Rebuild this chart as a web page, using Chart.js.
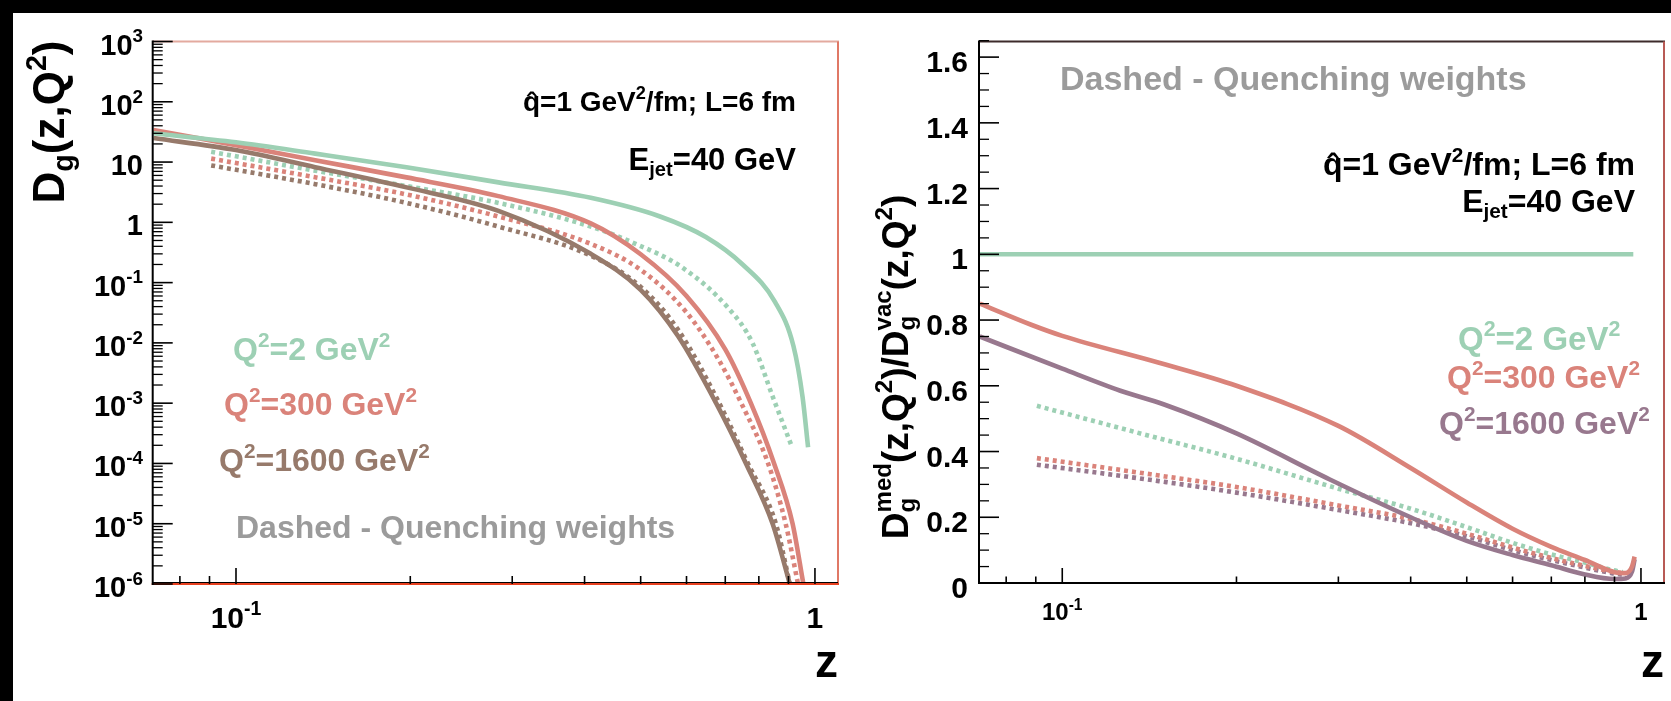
<!DOCTYPE html>
<html>
<head>
<meta charset="utf-8">
<script src="https://cdn.jsdelivr.net/npm/chart.js@4.4.1/dist/chart.umd.min.js"></script>
<style>
  html, body { margin: 0; padding: 0; background: #fff; }
  body { width: 1671px; height: 701px; position: relative; overflow: hidden; }
  canvas { position: absolute; left: 0; top: 0; }
  .bar { position: absolute; background: #000; z-index: 5; }
</style>
</head>
<body>
<div class="bar" style="left:0;top:0;width:1671px;height:13px"></div>
<div class="bar" style="left:0;top:0;width:13px;height:701px"></div>
<canvas id="fragLeft" width="1671" height="701"></canvas>
<canvas id="fragRight" width="1671" height="701"></canvas>
<script>
// ---- left panel: D_g(z,Q^2); solid = medium-modified evolution, dashed = quenching weights
const zMed2    = [0.072, 0.1, 0.137, 0.197, 0.284, 0.41, 0.54, 0.648, 0.75, 0.853, 0.918, 0.952, 0.973];
const dMed2    = [30, 21.3, 13.8, 8.2, 4.6, 2.55, 1.25, 0.57, 0.20, 0.048, 0.0089, 1.26e-3, 1.86e-4];
const zMed300  = [0.072, 0.1, 0.137, 0.197, 0.284, 0.41, 0.5, 0.6, 0.7, 0.775, 0.85, 0.915, 0.955];
const dMed300  = [34, 19.1, 10.7, 5.57, 2.72, 0.96, 0.295, 0.06, 7.8e-3, 1e-3, 1e-4, 1e-5, 1e-6];
const zMed1600 = [0.072, 0.1, 0.137, 0.197, 0.284, 0.41, 0.5, 0.58, 0.675, 0.76, 0.845, 0.905];
const dMed1600 = [25, 15.8, 8.2, 3.8, 1.55, 0.3, 0.076, 0.013, 1e-3, 1e-4, 1e-5, 1e-6];
const zQw2     = [0.0906, 0.137, 0.197, 0.284, 0.41, 0.49, 0.59, 0.71, 0.78, 0.846, 0.913];
const dQw2     = [14.8, 7.2, 4.0, 2.1, 0.85, 0.44, 0.178, 0.037, 0.010, 1.26e-3, 1.86e-4];
const zQw300   = [0.0906, 0.137, 0.197, 0.284, 0.41, 0.5, 0.6, 0.68, 0.746, 0.83, 0.89, 0.935];
const dQw300   = [11.4, 5.6, 2.9, 1.25, 0.44, 0.163, 0.032, 5.5e-3, 1e-3, 1e-4, 1e-5, 1e-6];
const zQw1600  = [0.0906, 0.137, 0.197, 0.284, 0.41, 0.5, 0.58, 0.68, 0.766, 0.856, 0.905];
const dQw1600  = [8.8, 4.3, 2.1, 0.85, 0.28, 0.085, 0.0166, 1.1e-3, 1e-4, 1e-5, 1e-6];

// ---- right panel: D_g^med / D_g^vac
const zRat2     = [0.072, 0.97];
const rRat2     = [1, 1];
const zRat300   = [0.072, 0.0886, 0.1, 0.147, 0.2, 0.3, 0.4, 0.5, 0.6, 0.7, 0.8, 0.9, 0.94, 0.965, 0.975];
const rRat300   = [0.85, 0.785, 0.752, 0.67, 0.6, 0.478, 0.35, 0.245, 0.165, 0.11, 0.07, 0.033, 0.03, 0.05, 0.08];
const zRat1600  = [0.072, 0.1, 0.126, 0.15, 0.2, 0.29, 0.4, 0.5, 0.6, 0.7, 0.8, 0.9, 0.94, 0.965, 0.975];
const rRat1600  = [0.75, 0.652, 0.585, 0.543, 0.455, 0.315, 0.2, 0.128, 0.085, 0.054, 0.026, 0.012, 0.014, 0.035, 0.072];
const zRatQw    = [0.0904, 0.147, 0.2, 0.3, 0.4, 0.5, 0.6, 0.7, 0.8, 0.89, 0.93];
const rQw2      = [0.539, 0.44, 0.378, 0.287, 0.226, 0.17, 0.122, 0.087, 0.062, 0.04, 0.033];
const rQw300    = [0.38, 0.327, 0.292, 0.236, 0.195, 0.15, 0.108, 0.076, 0.052, 0.035, 0.03];
const rQw1600   = [0.36, 0.31, 0.275, 0.222, 0.182, 0.142, 0.1, 0.07, 0.047, 0.03, 0.025];

// ---- axes
const zTickMajor   = [0.1, 1];
const zTickMinor   = [0.08, 0.09, 0.2, 0.3, 0.4, 0.5, 0.6, 0.7, 0.8, 0.9];
const zTickLabels  = ["10^{-1}", "1"];
const dTickMajor   = [1e3, 1e2, 10, 1, 0.1, 0.01, 1e-3, 1e-4, 1e-5, 1e-6];
const dTickLabels  = ["10^{3}", "10^{2}", "10", "1", "10^{-1}", "10^{-2}", "10^{-3}", "10^{-4}", "10^{-5}", "10^{-6}"];
const rTickMajor   = [0, 0.2, 0.4, 0.6, 0.8, 1, 1.2, 1.4, 1.6];
const rTickLabels  = ["0", "0.2", "0.4", "0.6", "0.8", "1", "1.2", "1.4", "1.6"];

const GREEN = "#9dd0b4", RED = "#da837a", BROWN = "#977a6b", MAUVE = "#98788e", GREY = "#9b9b9b";
const FONT = '"Liberation Sans", Arial, Helvetica, sans-serif';

function font(sz) { return `bold ${sz}px ${FONT}`; }

// tiny TLatex-ish parser: ^{..} superscript, _{..} subscript (adjacent pair stacks), #hat{..}
function parseTex(s) {
  const out = [];
  let i = 0;
  while (i < s.length) {
    if (s.startsWith("#hat{", i)) {
      const j = s.indexOf("}", i);
      out.push({ t: s.slice(i + 5, j), hat: true });
      i = j + 1; continue;
    }
    const c = s[i];
    if ((c === "^" || c === "_") && s[i + 1] === "{") {
      const j = s.indexOf("}", i);
      const txt = s.slice(i + 2, j);
      const prev = out[out.length - 1];
      if (prev && !prev.stack && ((c === "_" && prev.sup) || (c === "^" && prev.sub))) {
        prev.stack = c === "_" ? [prev.t, txt] : [txt, prev.t];
      } else {
        out.push(c === "^" ? { t: txt, sup: true } : { t: txt, sub: true });
      }
      i = j + 1; continue;
    }
    let j = i;
    while (j < s.length && !((s[j] === "^" || s[j] === "_") && s[j + 1] === "{") && !s.startsWith("#hat{", j)) j++;
    out.push({ t: s.slice(i, j) });
    i = j;
  }
  return out;
}

function partWidth(ctx, p, sz) {
  if (p.stack) {
    ctx.font = font(sz * 0.65);
    return Math.max(ctx.measureText(p.stack[0]).width, ctx.measureText(p.stack[1]).width);
  }
  ctx.font = font(p.sup || p.sub ? sz * 0.65 : sz);
  return ctx.measureText(p.t).width;
}

function drawTex(ctx, s, x, y, sz, color, align) {
  const parts = parseTex(s);
  const w = parts.reduce((a, p) => a + partWidth(ctx, p, sz), 0);
  let cx = align === "right" ? x - w : align === "center" ? x - w / 2 : x;
  ctx.fillStyle = color;
  ctx.textAlign = "left";
  ctx.textBaseline = "alphabetic";
  for (const p of parts) {
    const pw = partWidth(ctx, p, sz);
    if (p.stack) {
      ctx.font = font(sz * 0.65);
      ctx.fillText(p.stack[0], cx, y - sz * 0.45);
      ctx.fillText(p.stack[1], cx, y + sz * 0.2);
    } else if (p.sup) {
      ctx.font = font(sz * 0.65);
      ctx.fillText(p.t, cx, y - sz * 0.42);
    } else if (p.sub) {
      ctx.font = font(sz * 0.65);
      ctx.fillText(p.t, cx, y + sz * 0.2);
    } else {
      ctx.font = font(sz);
      ctx.fillText(p.t, cx, y);
      if (p.hat) {
        const hw = ctx.measureText("\u02C6").width;
        ctx.fillText("\u02C6", cx + (pw - hw) / 2, y + sz * 0.02);
      }
    }
    cx += pw;
  }
}

function drawTexRotated(ctx, s, x, y, sz, color) {
  ctx.save();
  ctx.translate(x, y);
  ctx.rotate(-Math.PI / 2);
  drawTex(ctx, s, 0, 0, sz, color, "center");
  ctx.restore();
}

function series(zs, vs) { return zs.map((z, i) => ({ x: z, y: vs[i] })); }

function line(zs, vs, color, dashed) {
  return {
    data: series(zs, vs),
    borderColor: color,
    borderWidth: 4.6,
    borderDash: dashed ? [4, 4] : [],
    borderCapStyle: "butt",
    pointRadius: 0,
    cubicInterpolationMode: "monotone",
    fill: false,
  };
}

// ROOT-style frame: inward ticks, tick labels, titles and TLatex annotations
const rootFrame = {
  id: "rootFrame",
  afterDraw(chart, args, o) {
    const ctx = chart.ctx;
    const { left, top, right, bottom } = chart.chartArea;
    const xs = chart.scales.x, ys = chart.scales.y;
    ctx.save();
    ctx.lineCap = "butt";

    // frame
    const edge = (c, w, x1, y1, x2, y2) => {
      ctx.strokeStyle = c; ctx.lineWidth = w;
      ctx.beginPath(); ctx.moveTo(x1, y1); ctx.lineTo(x2, y2); ctx.stroke();
    };
    edge(o.frame.top, 2, left, top, right + 1, top);
    edge(o.frame.right, 2, right, top, right, bottom);
    if (o.frame.bottomUnder) edge(o.frame.bottomUnder, 1.2, left, bottom - 1.4, right, bottom - 1.4);
    edge(o.frame.bottom, 2.2, left - 1, bottom, right + 1, bottom);
    edge(o.frame.left, 2, left, top - 1, left, bottom + 1);

    // x ticks
    ctx.strokeStyle = "#000"; ctx.lineWidth = 1.6;
    const xt = (v, len) => {
      const px = xs.getPixelForValue(v);
      ctx.beginPath(); ctx.moveTo(px, bottom); ctx.lineTo(px, bottom - len); ctx.stroke();
    };
    zTickMajor.forEach(v => xt(v, o.xMajorLen));
    zTickMinor.forEach(v => xt(v, o.xMinorLen));

    // y ticks
    const yt = (v, len) => {
      const py = ys.getPixelForValue(v);
      ctx.beginPath(); ctx.moveTo(left, py); ctx.lineTo(left + len, py); ctx.stroke();
    };
    o.yMajor.forEach(v => yt(v, o.yMajorLen));
    ctx.lineWidth = 1.3;
    o.yMinor.forEach(v => yt(v, o.yMinorLen));

    // tick labels
    zTickMajor.forEach((v, i) =>
      drawTex(ctx, zTickLabels[i], xs.getPixelForValue(v), o.xLabelBase, o.xLabelSize, "#000", "center"));
    o.yMajor.forEach((v, i) =>
      drawTex(ctx, o.yLabels[i], o.yLabelRight, ys.getPixelForValue(v) + o.yLabelDy, o.yLabelSize, "#000", "right"));

    // titles
    drawTex(ctx, "z", right, 677, 46, "#000", "right");
    drawTexRotated(ctx, o.yTitle.s, o.yTitle.x, o.yTitle.y, o.yTitle.size, "#000");

    o.texts.forEach(t => drawTex(ctx, t.s, t.x, t.y, t.size || 32, t.color || "#000", t.align || "left"));
    ctx.restore();
  },
};

function logMinors(lo, hi) {
  const out = [];
  for (let e = Math.round(Math.log10(lo)); e < Math.round(Math.log10(hi)); e++)
    for (let k = 2; k <= 9; k++) out.push(k * Math.pow(10, e));
  return out;
}

function linMinors(lo, hi, step, major) {
  const out = [];
  for (let v = lo; v <= hi + 1e-9; v += step) {
    const r = Math.round(v * 100) / 100;
    if (!major.some(m => Math.abs(m - r) < 1e-6)) out.push(r);
  }
  return out;
}

const Z_MIN = 0.0718, Z_MAX = 1.096;

new Chart(document.getElementById("fragLeft"), {
  type: "line",
  data: {
    datasets: [
      line(zMed2, dMed2, GREEN, false),
      line(zMed300, dMed300, RED, false),
      line(zMed1600, dMed1600, BROWN, false),
      line(zQw2, dQw2, GREEN, true),
      line(zQw300, dQw300, RED, true),
      line(zQw1600, dQw1600, BROWN, true),
    ],
  },
  options: {
    responsive: false,
    animation: false,
    devicePixelRatio: 1,
    layout: { padding: { left: 152.7, top: 41.5, right: 1671 - 838, bottom: 701 - 584 } },
    scales: {
      x: { type: "logarithmic", min: Z_MIN, max: Z_MAX, display: false },
      y: { type: "logarithmic", min: 1e-6, max: 1e3, display: false },
    },
    plugins: {
      legend: { display: false },
      tooltip: { enabled: false },
      rootFrame: {
        frame: { top: "#e3aa9f", right: "#e07866", bottom: "#e8401f", bottomUnder: "#000", left: "#000" },
        xMajorLen: 16, xMinorLen: 8,
        yMajor: dTickMajor, yMinor: logMinors(1e-6, 1e3), yMajorLen: 20, yMinorLen: 10,
        yLabels: dTickLabels, yLabelSize: 29, yLabelRight: 143, yLabelDy: 13,
        xLabelSize: 30, xLabelBase: 628,
        yTitle: { s: "D_{g}(z,Q^{2})", x: 64, y: 122, size: 44 },
        texts: [
          { s: "#hat{q}=1 GeV^{2}/fm; L=6 fm", x: 796, y: 111, align: "right", size: 28 },
          { s: "E_{jet}=40 GeV", x: 796, y: 170, align: "right", size: 31 },
          { s: "Q^{2}=2 GeV^{2}", x: 233, y: 360, color: GREEN },
          { s: "Q^{2}=300 GeV^{2}", x: 224, y: 415, color: RED },
          { s: "Q^{2}=1600 GeV^{2}", x: 219, y: 471, color: BROWN },
          { s: "Dashed - Quenching weights", x: 236, y: 538, color: GREY },
        ],
      },
    },
  },
  plugins: [rootFrame],
});

new Chart(document.getElementById("fragRight"), {
  type: "line",
  data: {
    datasets: [
      line(zRat2, rRat2, GREEN, false),
      line(zRat300, rRat300, RED, false),
      line(zRat1600, rRat1600, MAUVE, false),
      line(zRatQw, rQw2, GREEN, true),
      line(zRatQw, rQw300, RED, true),
      line(zRatQw, rQw1600, MAUVE, true),
    ],
  },
  options: {
    responsive: false,
    animation: false,
    devicePixelRatio: 1,
    layout: { padding: { left: 979, top: 41.5, right: 1671 - 1664, bottom: 701 - 583 } },
    scales: {
      x: { type: "logarithmic", min: Z_MIN, max: Z_MAX, display: false },
      y: { type: "linear", min: 0, max: 1.6475, display: false },
    },
    plugins: {
      legend: { display: false },
      tooltip: { enabled: false },
      rootFrame: {
        frame: { top: "#3d2b2b", right: "#b85a55", bottom: "#000", left: "#000" },
        xMajorLen: 15, xMinorLen: 6.5,
        yMajor: rTickMajor, yMinor: linMinors(0, 1.65, 0.05, rTickMajor), yMajorLen: 20, yMinorLen: 10,
        yLabels: rTickLabels, yLabelSize: 30, yLabelRight: 968, yLabelDy: 15,
        xLabelSize: 24, xLabelBase: 620,
        yTitle: { s: "D_{g}^{med}(z,Q^{2})/D_{g}^{vac}(z,Q^{2})", x: 908, y: 367, size: 37 },
        texts: [
          { s: "Dashed - Quenching weights", x: 1060, y: 90, color: GREY, size: 34 },
          { s: "#hat{q}=1 GeV^{2}/fm; L=6 fm", x: 1635, y: 175, align: "right" },
          { s: "E_{jet}=40 GeV", x: 1635, y: 212, align: "right" },
          { s: "Q^{2}=2 GeV^{2}", x: 1458, y: 350, color: GREEN, size: 33 },
          { s: "Q^{2}=300 GeV^{2}", x: 1447, y: 388, color: RED },
          { s: "Q^{2}=1600 GeV^{2}", x: 1439, y: 434, color: MAUVE },
        ],
      },
    },
  },
  plugins: [rootFrame],
});
</script>
</body>
</html>
